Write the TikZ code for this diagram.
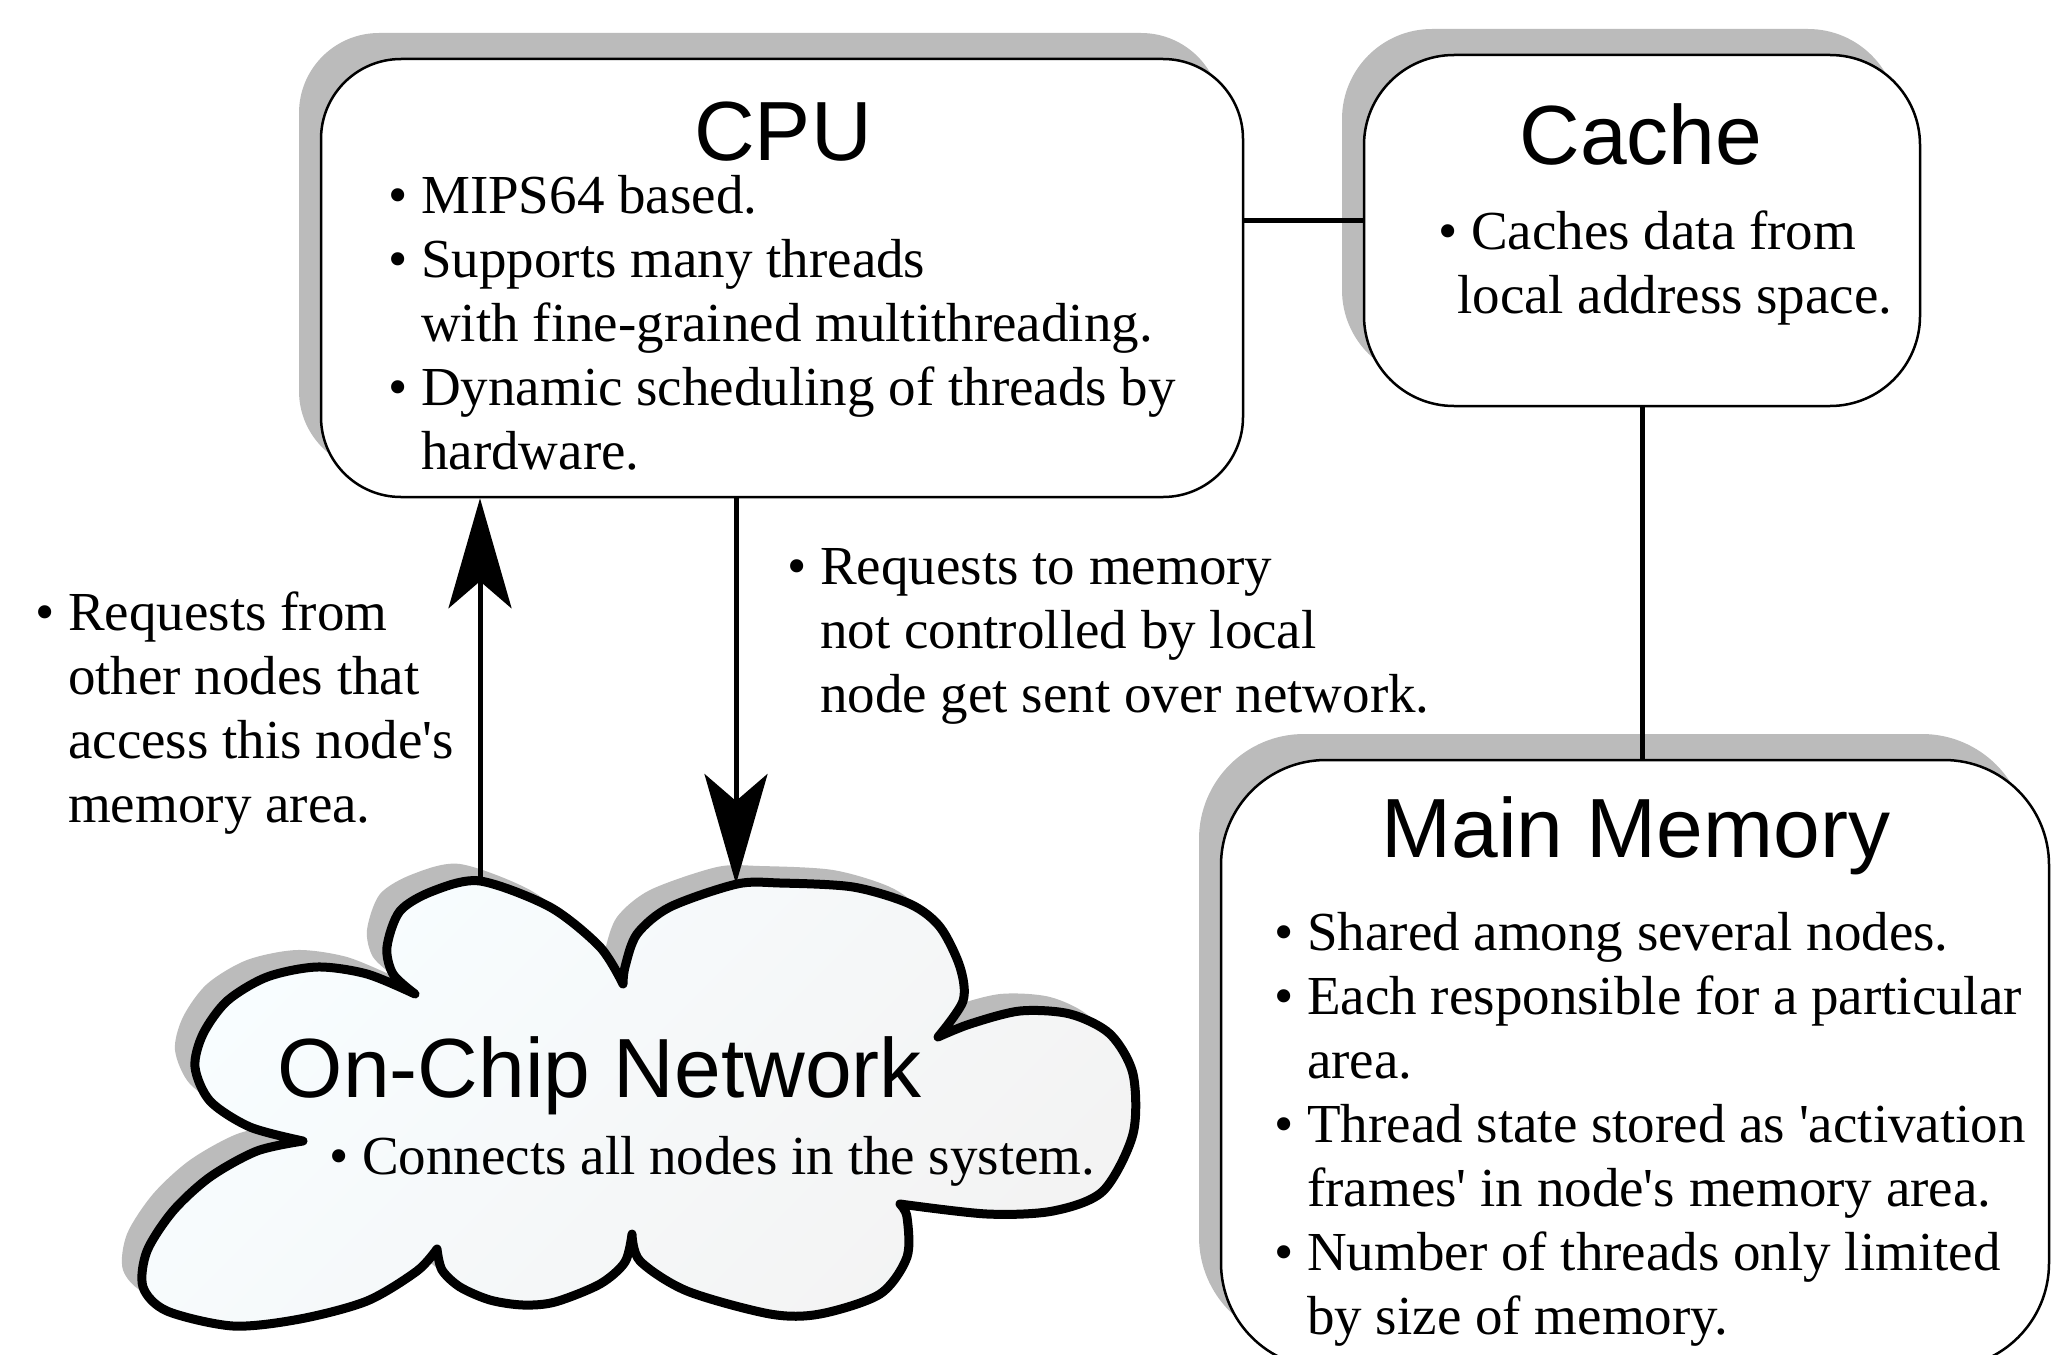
\documentclass[tikz,border=0pt]{standalone}
\usepackage{fontspec}
\setmainfont{Liberation Serif}
\newfontfamily\headfont{Liberation Sans}
\usetikzlibrary{arrows.meta,shadows}
\definecolor{shadowgray}{RGB}{187,187,187}
\definecolor{cloudhi}{RGB}{248,253,255}
\definecolor{cloudlo}{RGB}{243,243,243}
\newcommand{\bul}{\textbullet\ }
\newcommand{\ind}{\hphantom{\textbullet\ }}
\newcommand{\apos}{\textquotesingle}
\newcommand{\netpath}{plot[smooth] coordinates {(415,994) (393,974) (387,947) (400,911) (433,891) (480,881) (550,907) (600,947) (623,984)}
  -- plot[smooth] coordinates {(623,984) (625,967) (637,934) (670,907) (737,884) (780,883) (853,887) (910,904) (940,927) (960,967) (963,1001) (938,1037)}
  -- plot[smooth] coordinates {(938,1037) (970,1024) (1020,1011) (1070,1014) (1110,1034) (1133,1074) (1133,1134) (1103,1191) (1053,1211) (987,1214) (900,1204)}
  -- plot[smooth] coordinates {(900,1204) (907,1217) (907,1257) (880,1294) (820,1314) (770,1314) (687,1291) (640,1261) (632,1234)}
  -- plot[smooth] coordinates {(632,1234) (625,1262) (600,1284) (555,1302) (523,1305) (490,1300) (460,1287) (442,1270) (437,1249)}
  -- plot[smooth] coordinates {(437,1249) (417,1271) (367,1301) (300,1319) (233,1326) (167,1311) (143,1287) (147,1251) (173,1211) (210,1177) (257,1151) (303,1141)}
  -- plot[smooth] coordinates {(303,1141) (250,1127) (210,1101) (195,1067) (203,1034) (227,1001) (267,977) (317,967) (367,974) (415,994)}
  -- cycle}
\tikzset{
  box/.style={draw, line width=2.5pt, fill=white,
    drop shadow={shadow xshift=-22pt, shadow yshift=26pt, fill=shadowgray, opacity=1}},
  head/.style={anchor=base, inner sep=0pt, font=\headfont\fontsize{84}{100}\selectfont},
  body/.style={anchor=base west, inner sep=0pt, align=left, font=\fontsize{55}{64}\selectfont},
  link/.style={line width=5pt},
  req/.style={line width=5pt, -{Stealth[length=110pt, width=63pt, inset=27pt]}}
}
\begin{document}
\begin{tikzpicture}[x=1pt, y=-1pt]
  \useasboundingbox (0,0) rectangle (2052,1354);
  \begin{scope}[line join=round]
  \fill[shadowgray, shift={(-20,-17)}] \netpath;
  \draw[line width=9pt, top color=cloudhi, bottom color=cloudlo, shading angle=45] \netpath;
  \end{scope}
  \coordinate (netin) at (480,881);
  \coordinate (netout) at (736,884);
  \node[box, rounded corners=80pt, minimum width=922pt, minimum height=438pt] (cpu) at (782,278) {};
  \node[box, rounded corners=90pt, minimum width=556pt, minimum height=351pt] (cache) at (1642,230.5) {};
  \node[box, rounded corners=105pt, minimum width=828pt, minimum height=608pt] (mem) at (1635,1064) {};
  % text blocks sit on the baseline of their last line
  \node[head] (cputitle) at (783,160) {CPU};
  \node[body] (cputext) at (388,469) {\bul MIPS64 based.\\ \bul Supports many threads\\ \ind with fine-grained multithreading.\\ \bul Dynamic scheduling of threads by\\ \ind hardware.};
  \node[head] (cachetitle) at (1641,164) {Cache};
  \node[body] (cachetext) at (1438,313) {\bul Caches data from\\ \hspace*{19pt}local address space.};
  \node[head] (memtitle) at (1636,857) {Main Memory};
  \node[body] (memtext) at (1274,1334) {\bul Shared among several nodes.\\ \bul Each responsible for a particular\\ \ind area.\\ \bul Thread state stored as \apos activation\\ \ind frames\apos\ in node\apos s memory area.\\ \bul Number of threads only limited\\ \ind by size of memory.};
  \node[head] (nettitle) at (600,1097) {On-Chip Network};
  \node[body] (nettext) at (329,1174) {\bul Connects all nodes in the system.};
  \node[body] (fromtext) at (35,822) {\bul Requests from\\ \ind other nodes that\\ \ind access this node\apos s\\ \ind memory area.};
  \node[body] (totext) at (787,712) {\bul Requests to memory\\ \ind not controlled by local\\ \ind node get sent over network.};
  \draw[link] (cpu.east |- 0,220) -- (cache.west |- 0,220);
  \draw[link] (cache.south) -- (cache.south |- mem.north);
  \draw[req] (netin) -- (cpu.south -| netin);
  \draw[req] (cpu.south -| netout) -- (netout);
\end{tikzpicture}
\end{document}
